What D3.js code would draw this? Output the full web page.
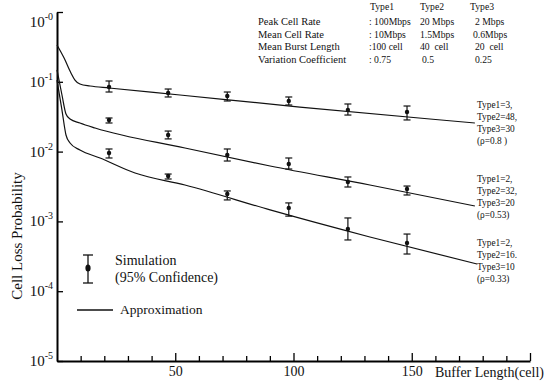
<!DOCTYPE html>
<html>
<head>
<meta charset="utf-8">
<script src="https://cdn.jsdelivr.net/npm/d3@7"></script>
<style>
  body { margin: 0; background: #fff; }
  svg text { font-family: "Liberation Serif", "Times New Roman", serif; fill: #111; }
</style>
</head>
<body>
<div id="chart"></div>
<script>
// buffer lengths (cells) where the simulation points sit
var simBuffer = [22, 47, 72, 98, 123, 148];

// rho = 0.8  (Type1=3, Type2=48, Type3=30)
var sim80 = [0.0842, 0.0691, 0.0626, 0.0531, 0.0394, 0.0369];
var sim80Hi = [0.1027, 0.0788, 0.0714, 0.0606, 0.0481, 0.0450];
var sim80Lo = [0.0714, 0.0606, 0.0531, 0.0465, 0.0334, 0.0284];

// rho = 0.53 (Type1=2, Type2=32, Type3=20)
var sim53 = [0.0284, 0.0173, 0.00894, 0.00664, 0.00367, 0.00291];
var sim53Hi = [0.0303, 0.0197, 0.0109, 0.0081, 0.00433, 0.00321];
var sim53Lo = [0.0257, 0.0152, 0.00733, 0.00563, 0.00311, 0.00239];

// rho = 0.33 (Type1=2, Type2=16, Type3=10)
var sim33 = [0.00955, 0.00447, 0.00247, 0.00156, 0.000778, 0.000491];
var sim33Hi = [0.0109, 0.00477, 0.00273, 0.00184, 0.00112, 0.000659];
var sim33Lo = [0.0081, 0.00405, 0.00203, 0.00119, 0.000542, 0.000341];

// approximation curves
var approx80Buffer = [0, 3, 5.9, 7.6, 9.7, 14, 22, 52, 102.7, 157.7, 176.7];
var approx80Loss = [0.337, 0.219, 0.134, 0.106, 0.093, 0.087, 0.0815, 0.0647, 0.0435, 0.0293, 0.0257];
var approx53Buffer = [0, 2.1, 3.8, 5.5, 9.7, 16.1, 54.1, 90.1, 132.3, 176.7];
var approx53Loss = [0.148, 0.0647, 0.0346, 0.0293, 0.0257, 0.0218, 0.01127, 0.00622, 0.00332, 0.00166];
var approx33Buffer = [0, 2.1, 3.8, 5.5, 9.7, 18.2, 33, 54.1, 90.1, 132.3, 177.6];
var approx33Loss = [0.106, 0.0394, 0.0173, 0.01328, 0.01054, 0.0081, 0.00493, 0.00332, 0.00146, 0.000598, 0.000245];

var curveLabels = [
  ["Type1=3,", "Type2=48,", "Type3=30", "(\u03c1=0.8 )"],
  ["Type1=2,", "Type2=32,", "Type3=20", "(\u03c1=0.53)"],
  ["Type1=2,", "Type2=16.", "Type3=10", "(\u03c1=0.33)"]
];

// traffic parameter table
var tableTypes = ["Type1", "Type2", "Type3"];
var tableRows = ["Peak Cell Rate", "Mean Cell Rate", "Mean Burst Length", "Variation Coefficient"];
var tableType1 = [": 100Mbps", ": 10Mbps", ":100 cell", ": 0.75"];
var tableType2 = ["20 Mbps", "1.5Mbps", "40  cell", "0.5"];
var tableType3 = ["2 Mbps", "0.6Mbps", "20  cell", "0.25"];

var xTickLabels = [50, 100, 150];
var yDecades = [0, 1, 2, 3, 4, 5];

var Loss_Chart = function(opt) {
  this.element = opt.element;
  this.width = 550;
  this.height = 382;
  this.draw();
};

Loss_Chart.prototype.draw = function() {
  this.svg = d3.select(this.element).append("svg")
    .attr("width", this.width)
    .attr("height", this.height);

  this.generateScales();
  this.addAxis();
  this.generateCurves();
  this.generateErrorBars();
  this.addCurveLabels();
  this.addLegend();
  this.addTable();
};

Loss_Chart.prototype.generateScales = function() {
  this.xScale = d3.scaleLinear().domain([0, 200]).range([57, 530]);
  this.yScale = d3.scaleLog().domain([1e-5, 1]).range([361, 12]);
};

Loss_Chart.prototype.addAxis = function() {
  var that = this;

  // x ticks point up into the plot
  var xAxis = d3.axisTop(this.xScale)
    .tickValues(d3.range(10, 201, 10))
    .tickSizeInner(5)
    .tickSizeOuter(0)
    .tickFormat("");
  var gx = this.svg.append("g")
    .attr("class", "x-axis")
    .attr("transform", "translate(0,361)")
    .call(xAxis);
  gx.selectAll(".tick line")
    .attr("y2", function(d) { return d % 50 == 0 ? -8 : -5 })
    .attr("stroke-width", 1.3);
  gx.select(".domain").attr("stroke-width", 2);

  var xLabels = d3.axisBottom(this.xScale)
    .tickValues(xTickLabels)
    .tickSize(0)
    .tickPadding(5);
  var gl = this.svg.append("g")
    .attr("transform", "translate(0,361)")
    .call(xLabels);
  gl.select(".domain").remove();
  gl.selectAll("text")
    .style("font-family", '"Liberation Serif", serif')
    .style("font-size", "14px")
    .attr("fill", "#111");

  this.svg.append("text")
    .attr("x", 435)
    .attr("y", 377)
    .style("font-size", "14px")
    .text("Buffer Length(cell)");

  // y ticks point right into the plot
  var yAxis = d3.axisRight(this.yScale)
    .tickValues(yDecades.map(function(k) { return Math.pow(10, -k) }))
    .tickSizeInner(6)
    .tickSizeOuter(0)
    .tickFormat("");
  var gy = this.svg.append("g")
    .attr("class", "y-axis")
    .attr("transform", "translate(57,0)")
    .call(yAxis);
  gy.select(".domain").attr("stroke-width", 2);
  gy.selectAll(".tick line").attr("stroke-width", 1.3);

  var lab = this.svg.selectAll(".ylab")
    .data(yDecades)
    .enter().append("text")
    .attr("class", "ylab")
    .attr("x", 53)
    .attr("y", function(k) { return Math.max(that.yScale(Math.pow(10, -k)), 22) + 5 })
    .attr("text-anchor", "end");
  lab.append("tspan").style("font-size", "15px").text("10");
  lab.append("tspan").style("font-size", "10px").attr("dy", -7).text(function(k) { return "-" + k });

  this.svg.append("text")
    .attr("transform", "translate(22,236) rotate(-90)")
    .attr("text-anchor", "middle")
    .style("font-size", "15px")
    .text("Cell Loss Probability");
};

Loss_Chart.prototype.generateCurves = function() {
  var that = this;
  var curves = [
    d3.zip(approx80Buffer, approx80Loss),
    d3.zip(approx53Buffer, approx53Loss),
    d3.zip(approx33Buffer, approx33Loss)
  ];
  var line = d3.line()
    .curve(d3.curveMonotoneX)
    .x(function(d) { return that.xScale(d[0]) })
    .y(function(d) { return that.yScale(d[1]) });

  this.svg.selectAll(".approx")
    .data(curves)
    .enter().append("path")
    .attr("class", "approx")
    .attr("d", line)
    .attr("fill", "none")
    .attr("stroke", "#111")
    .attr("stroke-width", 1.2);
};

Loss_Chart.prototype.generateErrorBars = function() {
  var that = this;
  var points = [];
  [[sim80, sim80Lo, sim80Hi], [sim53, sim53Lo, sim53Hi], [sim33, sim33Lo, sim33Hi]].forEach(function(s) {
    for (var i = 0; i < simBuffer.length; i++) {
      points.push({ x: simBuffer[i], y: s[0][i], lo: s[1][i], hi: s[2][i] });
    }
  });

  var g = this.svg.selectAll(".sim")
    .data(points)
    .enter().append("g")
    .attr("class", "sim")
    .attr("stroke", "#111")
    .attr("stroke-width", 1.2);

  g.append("line")
    .attr("x1", function(d) { return that.xScale(d.x) })
    .attr("x2", function(d) { return that.xScale(d.x) })
    .attr("y1", function(d) { return that.yScale(d.hi) })
    .attr("y2", function(d) { return that.yScale(d.lo) });
  ["hi", "lo"].forEach(function(k) {
    g.append("line")
      .attr("x1", function(d) { return that.xScale(d.x) - 3.5 })
      .attr("x2", function(d) { return that.xScale(d.x) + 3.5 })
      .attr("y1", function(d) { return that.yScale(d[k]) })
      .attr("y2", function(d) { return that.yScale(d[k]) });
  });
  g.append("circle")
    .attr("cx", function(d) { return that.xScale(d.x) })
    .attr("cy", function(d) { return that.yScale(d.y) })
    .attr("r", 2.2)
    .attr("fill", "#111")
    .attr("stroke", "none");
};

Loss_Chart.prototype.addCurveLabels = function() {
  var blockTop = [108, 182, 246];
  var g = this.svg.selectAll(".clabel")
    .data(curveLabels)
    .enter().append("g")
    .attr("class", "clabel")
    .attr("transform", function(d, i) { return "translate(477," + blockTop[i] + ") scale(0.85,1)" });
  g.selectAll("text")
    .data(function(d) { return d })
    .enter().append("text")
    .attr("y", function(d, i) { return i * 12 })
    .style("font-size", "11px")
    .text(function(d) { return d });
};

Loss_Chart.prototype.addLegend = function() {
  var lg = this.svg.append("g").attr("stroke", "#111").attr("stroke-width", 1.3);
  lg.append("line").attr("x1", 88).attr("x2", 88).attr("y1", 255).attr("y2", 283);
  lg.append("line").attr("x1", 83).attr("x2", 93).attr("y1", 255).attr("y2", 255);
  lg.append("line").attr("x1", 83).attr("x2", 93).attr("y1", 283).attr("y2", 283);
  lg.append("ellipse").attr("cx", 88).attr("cy", 268).attr("rx", 2.6).attr("ry", 3.6)
    .attr("fill", "#111").attr("stroke", "none");
  lg.append("line").attr("x1", 77).attr("x2", 113).attr("y1", 310).attr("y2", 310);

  this.svg.append("text").attr("x", 115).attr("y", 265).style("font-size", "14px").text("Simulation");
  this.svg.append("text").attr("x", 115).attr("y", 282).style("font-size", "14px").text("(95% Confidence)");
  this.svg.append("text").attr("x", 120).attr("y", 314).style("font-size", "13.5px").text("Approximation");
};

Loss_Chart.prototype.addTable = function() {
  var svg = this.svg;
  var rowY = [25, 37.5, 50, 63];
  var cell = function(x, y, txt) {
    svg.append("text")
      .attr("transform", "translate(" + x + "," + y + ") scale(0.88,1)")
      .style("font-size", "11px")
      .style("white-space", "pre")
      .text(txt);
  };

  [370, 420, 470].forEach(function(x, i) { cell(x, 10, tableTypes[i]) });
  tableRows.forEach(function(r, i) {
    svg.append("text")
      .attr("x", 258)
      .attr("y", rowY[i])
      .style("font-size", "10.5px")
      .text(r);
    cell(369, rowY[i], tableType1[i]);
    cell(i == 3 ? 422 : 420, rowY[i], tableType2[i]);
    cell(i == 1 ? 473 : 475, rowY[i], tableType3[i]);
  });
};

new Loss_Chart({ element: "#chart" });
</script>
</body>
</html>
